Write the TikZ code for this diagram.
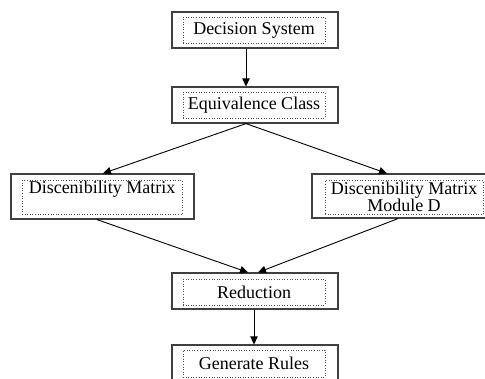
\documentclass[tikz,border=0pt]{standalone}
\usepackage{fontspec}
\setmainfont{Liberation Serif}
\usetikzlibrary{arrows.meta,calc}
\begin{document}
\begin{tikzpicture}[x=1pt,y=-1pt,
  outerbox/.style={draw=black!75,line width=1.2pt,rectangle,inner sep=0pt},
  innerbox/.style={draw=black!70,dotted,line width=0.6pt,rectangle,inner sep=0pt,align=center,
     font=\fontsize{18}{16}\selectfont},
  conn/.style={draw=black,line width=0.9pt,-{Triangle[length=8pt,width=7.5pt]}}]
\useasboundingbox (0,0) rectangle (485,378);
\clip (0,0) rectangle (485,378);
% Decision System
\node[outerbox,minimum width=166pt,minimum height=36pt] (ds) at (255,30) {};
\node[innerbox,minimum width=142pt,minimum height=26pt] (dsi) at (254,30) {Decision System};
% Equivalence Class
\node[outerbox,minimum width=166pt,minimum height=36pt] (ec) at (255,105) {};
\node[innerbox,minimum width=142pt,minimum height=26pt] (eci) at (254,105) {Equivalence Class};
% Left matrix
\node[outerbox,minimum width=183pt,minimum height=45pt] (dm) at (102.5,196.5) {};
\node[innerbox,minimum width=160pt,minimum height=34pt,anchor=north] (dmi) at (102,180) {};
\node[font=\fontsize{18}{16}\selectfont,anchor=base,inner sep=0pt] (dmt) at (102,193) {Discenibility Matrix};
% Right matrix
\node[outerbox,minimum width=174pt,minimum height=44pt] (dd) at (399,196) {};
\node[innerbox,minimum width=158pt,minimum height=34pt,anchor=north] (ddi) at (404,180) {};
\node[font=\fontsize{18}{16}\selectfont,align=center,inner sep=0pt] (ddt) at (404,197) {Discenibility Matrix\\Module D};
% Reduction
\node[outerbox,minimum width=166pt,minimum height=36pt] (rd) at (255,291) {};
\node[innerbox,minimum width=142pt,minimum height=26pt] (rdi) at (254,292) {Reduction};
% Generate Rules
\node[outerbox,minimum width=166pt,minimum height=36pt] (gr) at (255,363) {};
\node[innerbox,minimum width=142pt,minimum height=27pt] (gri) at (254,363.5) {Generate Rules};
% connectors
\draw[conn] ($(ds.south)+(-9,0)$) -- ($(ec.north)+(-9,0)$);
\draw[conn] ($(ec.south)+(-9,0)$) -- ($(dm.north)+(0.5,0)$);
\draw[conn] ($(ec.south)+(-9,0)$) -- ($(dd.north)+(-12,0)$);
\draw[conn] ($(dm.south)+(-5.5,0)$) -- ($(rd.north)+(-7,0)$);
\draw[conn] ($(dd.south)+(-1,0)$) -- ($(rd.north)+(3,0)$);
\draw[conn] ($(rd.south)+(-1,0)$) -- ($(gr.north)+(-1,0)$);
\end{tikzpicture}
\end{document}
